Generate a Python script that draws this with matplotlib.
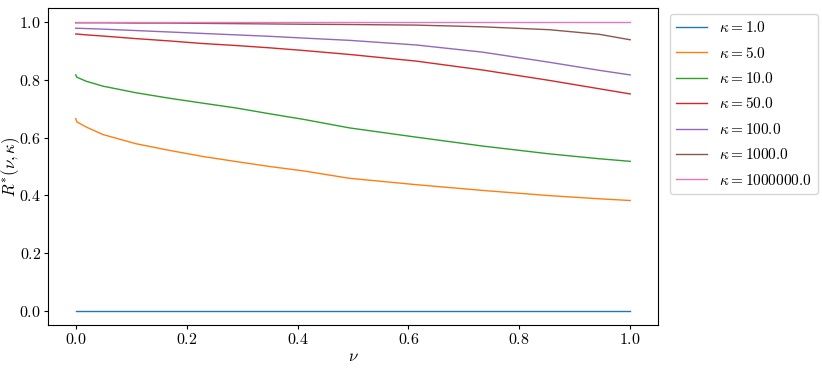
import numpy as np
import matplotlib
matplotlib.use("Agg")
import matplotlib.pyplot as plt

plt.rcParams['font.family'] = 'serif'
plt.rcParams['font.serif'] = ['cmr10']
plt.rcParams['mathtext.fontset'] = 'cm'
plt.rcParams['axes.formatter.use_mathtext'] = True
plt.rcParams['font.size'] = 12

# nu values
nu = [0, 0.002, 0.019, 0.049, 0.109, 0.169, 0.229, 0.290, 0.350, 0.410,
      0.494, 0.614, 0.734, 0.854, 0.944, 1.0]

kappas = [1.0, 5.0, 10.0, 50.0, 100.0, 1000.0, 1000000.0]

r_k1 = [0.0] * len(nu)
r_k5 = [0.666, 0.655, 0.637, 0.611, 0.579, 0.556, 0.535, 0.517, 0.500, 0.485,
        0.459, 0.437, 0.417, 0.399, 0.388, 0.382]
r_k10 = [0.818, 0.810, 0.796, 0.779, 0.756, 0.737, 0.720, 0.703, 0.683, 0.664,
         0.634, 0.602, 0.571, 0.544, 0.527, 0.518]
r_k50 = [0.960, 0.960, 0.957, 0.953, 0.944, 0.936, 0.927, 0.920, 0.912, 0.903,
         0.889, 0.866, 0.835, 0.799, 0.770, 0.752]
r_k100 = [0.980, 0.980, 0.979, 0.977, 0.972, 0.967, 0.962, 0.957, 0.952, 0.946,
          0.938, 0.922, 0.897, 0.862, 0.834, 0.818]
r_k1000 = [0.999, 0.999, 0.999, 0.999, 0.998, 0.998, 0.997, 0.996, 0.995, 0.994,
           0.993, 0.991, 0.985, 0.975, 0.959, 0.940]
r_k1e6 = [1.0] * len(nu)

curves = [r_k1, r_k5, r_k10, r_k50, r_k100, r_k1000, r_k1e6]

fig = plt.figure(figsize=(8.22, 3.68), dpi=100)
ax = fig.add_axes([0.0584, 0.117, 0.742, 0.861])

for k, r in zip(kappas, curves):
    ax.plot(nu, r, lw=1.0, label=r'$\kappa = %s$' % k)

ax.set_xlabel(r'$\nu$', labelpad=1)
ax.set_ylabel(r'$R^{*}(\nu, \kappa)$')
ax.yaxis.set_label_coords(-0.042, 0.5)
ax.tick_params(labelsize=11.5, length=3, pad=2)
ax.set_xticks([0.0, 0.2, 0.4, 0.6, 0.8, 1.0])
ax.set_yticks([0.0, 0.2, 0.4, 0.6, 0.8, 1.0])
ax.legend(loc='upper left', bbox_to_anchor=(1.01, 1.0), fontsize=11,
          handlelength=2.0, labelspacing=0.68, handletextpad=0.8,
          borderaxespad=0.4)

fig.savefig("out.png", dpi=100)
